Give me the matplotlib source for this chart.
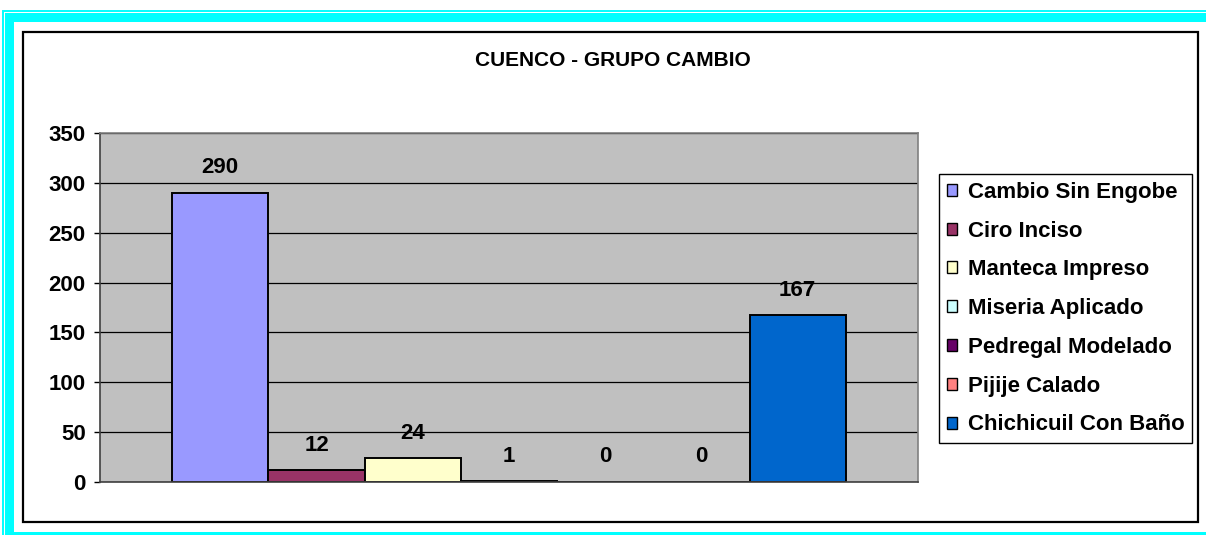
import numpy as np
import matplotlib
matplotlib.use('Agg')
import matplotlib.pyplot as plt
from matplotlib.patches import Rectangle

# data
categories = ['Cambio Sin Engobe', 'Ciro Inciso', 'Manteca Impreso', 'Miseria Aplicado',
              'Pedregal Modelado', 'Pijije Calado', 'Chichicuil Con Baño']
values = [290, 12, 24, 1, 0, 0, 167]
colors = ['#9999FF', '#993366', '#FFFFCC', '#CCFFFF', '#660066', '#FF8080', '#0066CC']
yticks = [0, 50, 100, 150, 200, 250, 300, 350]
title = 'CUENCO - GRUPO CAMBIO'

W, H = 1206, 535
plt.rcParams['font.family'] = ['Liberation Sans', 'DejaVu Sans']
plt.rcParams['font.weight'] = 'bold'
fs = 16

fig = plt.figure(figsize=(W / 100, H / 100), dpi=100)
fig.patch.set_facecolor('white')

def box(x0, y0, x1, y1, **kw):
    # pixel box (top-left origin) -> figure coords
    r = Rectangle((x0 / W, 1 - y1 / H), (x1 - x0) / W, (y1 - y0) / H,
                  transform=fig.transFigure, **kw)
    fig.add_artist(r)

# cyan page frame (cut at right/bottom)
box(2.5, 10.5, 1215, 545, fill=False, edgecolor='#00FFFF', linewidth=1.4)
box(5, 13, 1215, 22, facecolor='#00FFFF', edgecolor='none')
box(5, 13, 14, 545, facecolor='#00FFFF', edgecolor='none')
box(5, 532, 1215, 545, facecolor='#00FFFF', edgecolor='none')
# chart border
box(23, 32, 1198, 522, fill=False, edgecolor='black', linewidth=1.6)

ax = fig.add_axes([100 / W, 1 - 482 / H, 818 / W, (482 - 133) / H])
ax.set_facecolor('#C0C0C0')
ax.set_axisbelow(True)

x = np.arange(len(values))
bars = ax.bar(x, values, width=1.0, color=colors, edgecolor='black', linewidth=1.4,
              label=categories)
for xi, v in zip(x, values):
    ax.annotate(str(v), (xi, v), xytext=(0, 18), textcoords='offset points',
                ha='center', va='center', fontsize=fs, fontweight='bold')

ax.set_xlim(-1.25, 7.25)
ax.set_ylim(0, 350)
ax.set_yticks(yticks)
ax.set_xticks([])
ax.yaxis.grid(True, color='black', linewidth=0.9)
ax.tick_params(axis='y', labelsize=fs, length=4.3, width=1, pad=6)
for lab in ax.get_yticklabels():
    lab.set_fontweight('bold')
ax.spines['left'].set_color('#404040')
ax.spines['bottom'].set_color('#404040')
ax.spines['top'].set_color('#808080')
ax.spines['right'].set_color('#808080')
for s in ax.spines.values():
    s.set_linewidth(1.2)

fig.text(613 / W, 1 - 61 / H, title, ha='center', va='center', fontsize=15,
         fontweight='bold')

handles = [Rectangle((0, 0), 1, 1, facecolor=c, edgecolor='black', linewidth=1.0) for c in colors]
leg = fig.legend(handles, categories, loc='upper left',
                 bbox_to_anchor=(939 / W, 1 - 174 / H), borderaxespad=0,
                 fancybox=False, shadow=False, edgecolor='black', framealpha=1,
                 prop={'size': fs, 'weight': 'bold'},
                 handlelength=0.45, handleheight=0.45, handletextpad=0.5,
                 labelspacing=0.8, borderpad=0.35)
leg.get_frame().set_linewidth(1.0)

fig.savefig('out.png', dpi=100)
